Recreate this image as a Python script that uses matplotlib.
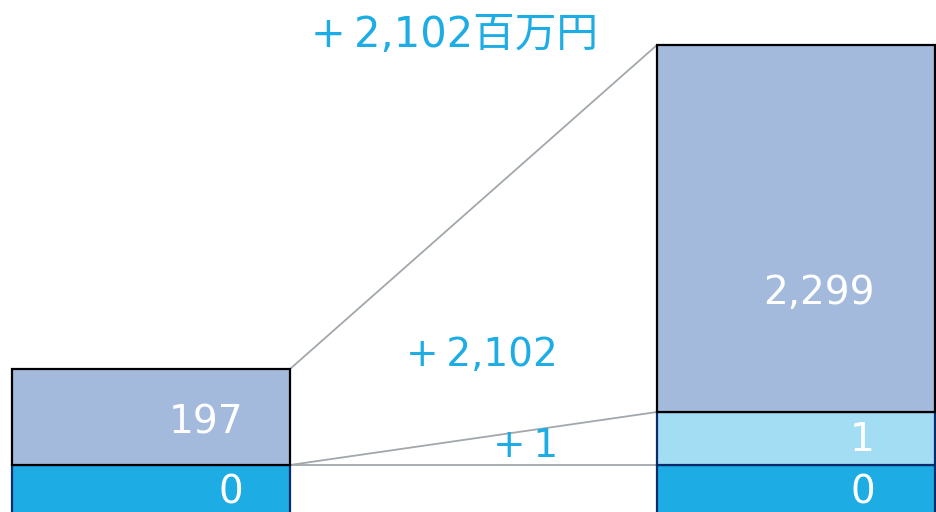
import matplotlib
matplotlib.use("Agg")
import matplotlib.pyplot as plt
import numpy as np

plt.rcParams["font.family"] = ["DejaVu Sans", "Noto Sans CJK JP"]

# ── データ ──────────────────────────────────────────────
periods = ["前期", "当期"]
# 表示ラベル（百万円）
left_values = [0, 197]
right_values = [0, 1, 2299]
# 図上の見かけの高さ（画像から読み取り、実寸比ではない）
left_heights = [67, 96]
right_heights = [67, 53, 367]
diff_total = "+\u20092,102百万円"
diff_labels = ["+\u20092,102", "+\u20091"]

# ── 色 ────────────────────────────────────────────────
C_BASE = "#1DADE4"
C_MID = "#A3DDF3"
C_TOP = "#A3BADC"
C_TEXT = "#1DADE4"
C_LINE = "#A2A7AC"
C_NAVY = "#0B2A6B"

fig = plt.figure(figsize=(9.36, 5.12), dpi=100)
ax = fig.add_axes([0, 0, 1, 1])
PX = 645.0                      # 2本の棒の中心間距離（px）
ax.set_xlim(-151 / PX, 785 / PX)
ax.set_ylim(0, 512)
ax.axis("off")

width = 278 / PX
y0 = -20

# 左の棒
l_fc = [C_BASE, C_TOP]
l_ec = [C_NAVY, "black"]
bottom = y0
l_tops = []
for h, fc, ec in zip(left_heights, l_fc, l_ec):
    ax.bar(0, h, width, bottom=bottom, color=fc, edgecolor=ec, linewidth=1.6, zorder=2)
    bottom += h
    l_tops.append(bottom)

# 右の棒
r_fc = [C_BASE, C_MID, C_TOP]
r_ec = [C_NAVY, C_NAVY, "black"]
bottom = y0
r_tops = []
for h, fc, ec in zip(right_heights, r_fc, r_ec):
    ax.bar(1, h, width, bottom=bottom, color=fc, edgecolor=ec, linewidth=1.6, zorder=2)
    bottom += h
    r_tops.append(bottom)

# 接続線
xl = width / 2
xr = 1 - width / 2
ax.plot([xl, xr], [l_tops[1], r_tops[2]], color=C_LINE, lw=1.3, zorder=1)
ax.plot([xl, xr], [l_tops[0], r_tops[1]], color=C_LINE, lw=1.3, zorder=1)
ax.plot([xl, xr], [l_tops[0], r_tops[0]], color=C_LINE, lw=1.3, zorder=1)

# 棒内ラベル
fs = 28
lx = xl - 47 / PX
ax.text(lx, 20, f"{left_values[0]:,}", ha="right", va="center", color="white", fontsize=fs, zorder=3)
ax.text(lx, 90, f"{left_values[1]:,}", ha="right", va="center", color="white", fontsize=fs, zorder=3)
rx = 1 + width / 2 - 60 / PX
ax.text(rx, 19, f"{right_values[0]:,}", ha="right", va="center", color="white", fontsize=fs, zorder=3)
ax.text(rx, 72, f"{right_values[1]:,}", ha="right", va="center", color="white", fontsize=fs, zorder=3)
ax.text(rx, 219, f"{right_values[2]:,}", ha="right", va="center", color="white", fontsize=fs, zorder=3)

# 増減ラベル
ax.text((454 - 151) / PX, 477, diff_total, ha="center", va="center", color=C_TEXT, fontsize=30)
ax.text((482 - 151) / PX, 157, diff_labels[0], ha="center", va="center", color=C_TEXT, fontsize=fs)
ax.text((526 - 151) / PX, 66, diff_labels[1], ha="center", va="center", color=C_TEXT, fontsize=fs)

fig.savefig("out.png", dpi=100)
plt.close()
